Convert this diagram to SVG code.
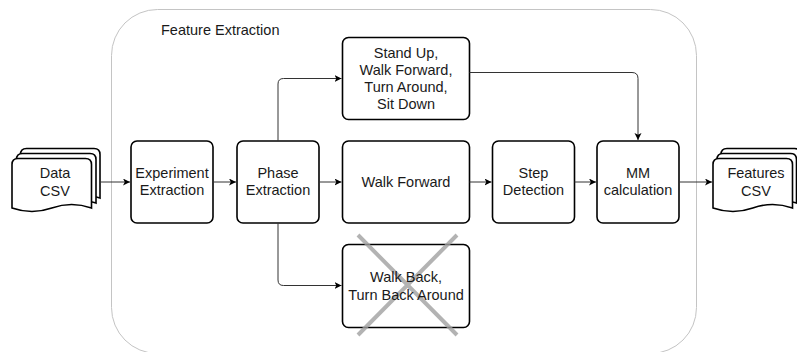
<svg xmlns="http://www.w3.org/2000/svg" width="797" height="352" viewBox="0 0 797 352">
<defs>
<marker id="arr" markerWidth="8" markerHeight="8" refX="7" refY="3.5" orient="auto" markerUnits="userSpaceOnUse">
<path d="M0,0 L7,3.5 L0,7 L1.8,3.5 Z" fill="#000"/>
</marker>
<style>
.box{fill:#fff;stroke:#000;stroke-width:1.6}
.doc{fill:#fff;stroke:#000;stroke-width:1.6}
.t{font-family:"Liberation Sans",Arial,sans-serif;font-size:14.5px;fill:#1a1a1a;text-anchor:middle}
.conn{fill:none;stroke:#333;stroke-width:1;marker-end:url(#arr)}
</style>
</defs>
<rect x="0" y="0" width="797" height="352" fill="#fff"/>
<g id="container">
<rect x="111.5" y="9.5" width="585" height="344" rx="46" ry="46" fill="none" stroke="#c4c4c4" stroke-width="1"/>
<text x="161" y="35" style="font-family:'Liberation Sans',Arial,sans-serif;font-size:14.5px;fill:#1a1a1a">Feature Extraction</text>
</g>
<g id="data-csv">
<path class="doc" d="M20.5,154.5 Q20.5,148.5 26.5,148.5 L94,148.5 Q100,148.5 100,154.5 L100,198 Q80,191 60.3,198 Q40.5,205 20.5,198 Z"/>
<path class="doc" d="M16.5,159.5 Q16.5,153.5 22.5,153.5 L90,153.5 Q96,153.5 96,159.5 L96,203 Q76,196 56.3,203 Q36.5,210 16.5,203 Z"/>
<path class="doc" d="M12,164.5 Q12,158.5 18,158.5 L85.5,158.5 Q91.5,158.5 91.5,164.5 L91.5,208 Q71.5,201 51.8,208 Q32,215 12,208 Z"/>
<text class="t" x="55" y="177.5">Data</text>
<text class="t" x="55" y="195.5">CSV</text>
</g>
<g id="features-csv">
<path class="doc" d="M721,154.5 Q721,148.5 727,148.5 L794.5,148.5 Q800.5,148.5 800.5,154.5 L800.5,198 Q780.5,191 760.8,198 Q741,205 721,198 Z"/>
<path class="doc" d="M717,159.5 Q717,153.5 723,153.5 L790.5,153.5 Q796.5,153.5 796.5,159.5 L796.5,203 Q776.5,196 756.8,203 Q737,210 717,203 Z"/>
<path class="doc" d="M713,164.5 Q713,158.5 719,158.5 L786.5,158.5 Q792.5,158.5 792.5,164.5 L792.5,208 Q772.5,201 752.8,208 Q733,215 713,208 Z"/>
<text class="t" x="756" y="177.5">Features</text>
<text class="t" x="756" y="195.5">CSV</text>
</g>
<g id="experiment-extraction">
<rect class="box" x="131" y="141" width="82" height="82" rx="6"/>
<text class="t" x="172" y="177.5">Experiment</text>
<text class="t" x="172" y="195">Extraction</text>
</g>
<g id="phase-extraction">
<rect class="box" x="237" y="141" width="82" height="82" rx="6"/>
<text class="t" x="278" y="177.5">Phase</text>
<text class="t" x="278" y="195">Extraction</text>
</g>
<g id="stand-up">
<rect class="box" x="342.5" y="37.5" width="127" height="82" rx="6"/>
<text class="t" x="406" y="57.5">Stand Up,</text>
<text class="t" x="406" y="74.7">Walk Forward,</text>
<text class="t" x="406" y="91.9">Turn Around,</text>
<text class="t" x="406" y="109">Sit Down</text>
</g>
<g id="walk-forward">
<rect class="box" x="342.5" y="141" width="127" height="82" rx="6"/>
<text class="t" x="406" y="187">Walk Forward</text>
</g>
<g id="walk-back">
<rect class="box" x="342.5" y="244.5" width="127" height="83" rx="6"/>
<path d="M358,235 L457,335 M457,235 L358,335" stroke="#a0a0a0" stroke-width="4" stroke-opacity="0.8" fill="none"/>
<text class="t" x="406" y="282.3">Walk Back,</text>
<text class="t" x="406" y="299.5">Turn Back Around</text>
</g>
<g id="step-detection">
<rect class="box" x="492.5" y="141" width="82" height="82" rx="6"/>
<text class="t" x="533.5" y="177.5">Step</text>
<text class="t" x="533.5" y="195">Detection</text>
</g>
<g id="mm-calculation">
<rect class="box" x="597" y="141" width="82" height="82" rx="6"/>
<text class="t" x="638" y="177.5">MM</text>
<text class="t" x="638" y="195">calculation</text>
</g>
<g id="connectors">
<path class="conn" d="M100,182 L130,182"/>
<path class="conn" d="M213,182 L236,182"/>
<path class="conn" d="M319,182 L341.5,182"/>
<path class="conn" d="M278,141 L278,84 Q278,78.5 283.5,78.5 L341.5,78.5"/>
<path class="conn" d="M278,223 L278,280 Q278,285.5 283.5,285.5 L341.5,285.5"/>
<path class="conn" d="M469.5,182 L491.5,182"/>
<path class="conn" d="M574.5,182 L596,182"/>
<path class="conn" d="M469.5,72.5 L632,72.5 Q638,72.5 638,78.5 L638,140"/>
<path class="conn" d="M679,182 L712,182"/>
</g>
</svg>
